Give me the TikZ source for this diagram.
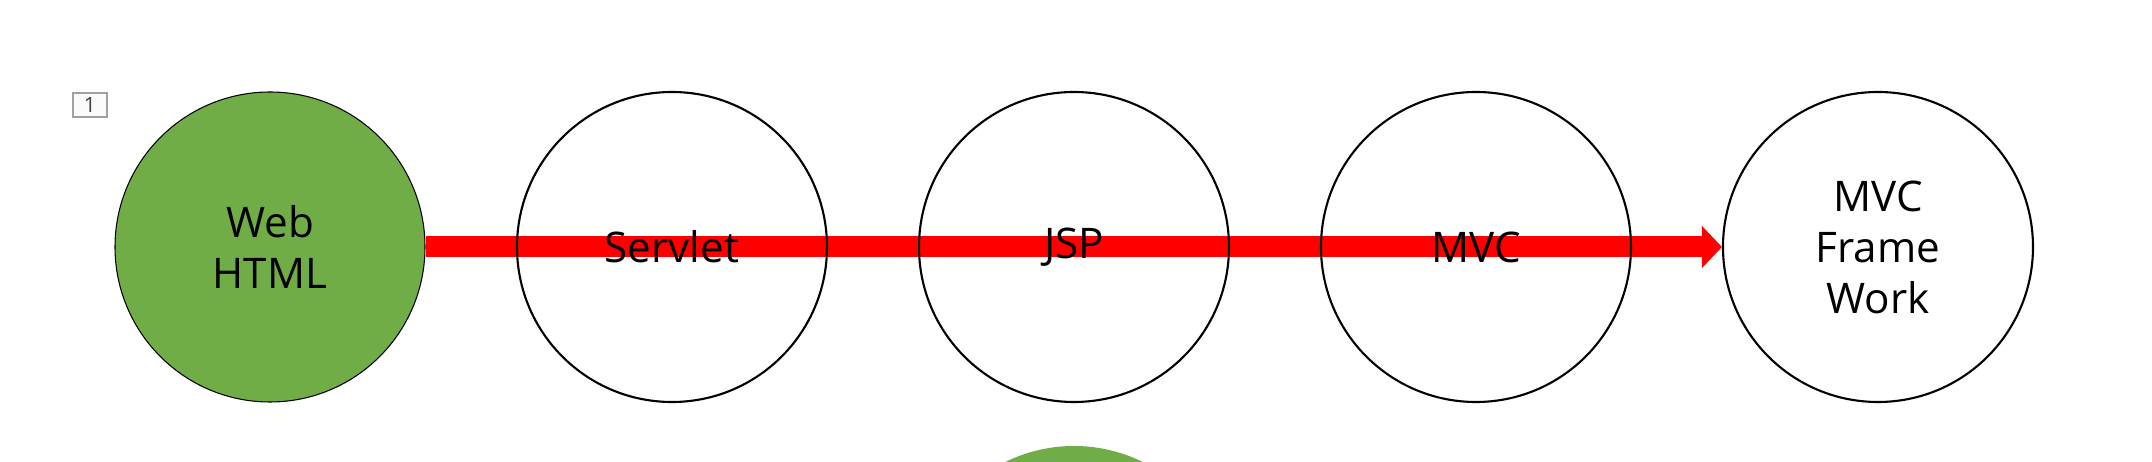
\documentclass[tikz,border=0pt]{standalone}
\usepackage{fontspec}
\setmainfont{Open Sans}
\usetikzlibrary{arrows.meta,backgrounds}
\definecolor{officegreen}{RGB}{112,173,71}
\definecolor{tagline}{RGB}{160,160,160}
\tikzset{step circle/.style={draw=black, circle, line width=0.6pt, minimum size=3.1cm, inner sep=0pt, align=center, font=\fontsize{12}{14.5}\selectfont}}
\tikzset{done circle/.style={step circle, fill=officegreen, line width=0.3pt}}
\tikzset{flow/.style={line width=0.21cm, color=red, -{Triangle[width=0.41cm, length=0.2cm]}}}

\begin{document}
\begin{tikzpicture}
        \useasboundingbox (0,0) rectangle (21.52,4.62);

        \node[draw=tagline, fill=white!98!black, line width=0.3pt, minimum width=0.34cm, minimum height=0.24cm, inner sep=0pt, text=black!75, font=\fontsize{6}{7}\selectfont] (tag) at (0.90,3.57) {1};

        \node[done circle] (web) at (2.70,2.15) {Web\\HTML};
        \node[step circle] (servlet) at (6.72,2.15) {Servlet};
        \node[step circle] (jsp) at (10.74,2.15) {JSP};
        \node[step circle] (mvc) at (14.76,2.15) {MVC};
        \node[step circle] (frame) at (18.78,2.15) {MVC\\Frame\\Work};

        \node[circle, fill=officegreen, minimum size=3.1cm, inner sep=0pt] (next) at (10.74,-1.39) {};

        \begin{pgfonlayer}{background}
        \draw[flow] (web.east) -- (frame.west);
        \end{pgfonlayer}
    \end{tikzpicture}
\end{document}
